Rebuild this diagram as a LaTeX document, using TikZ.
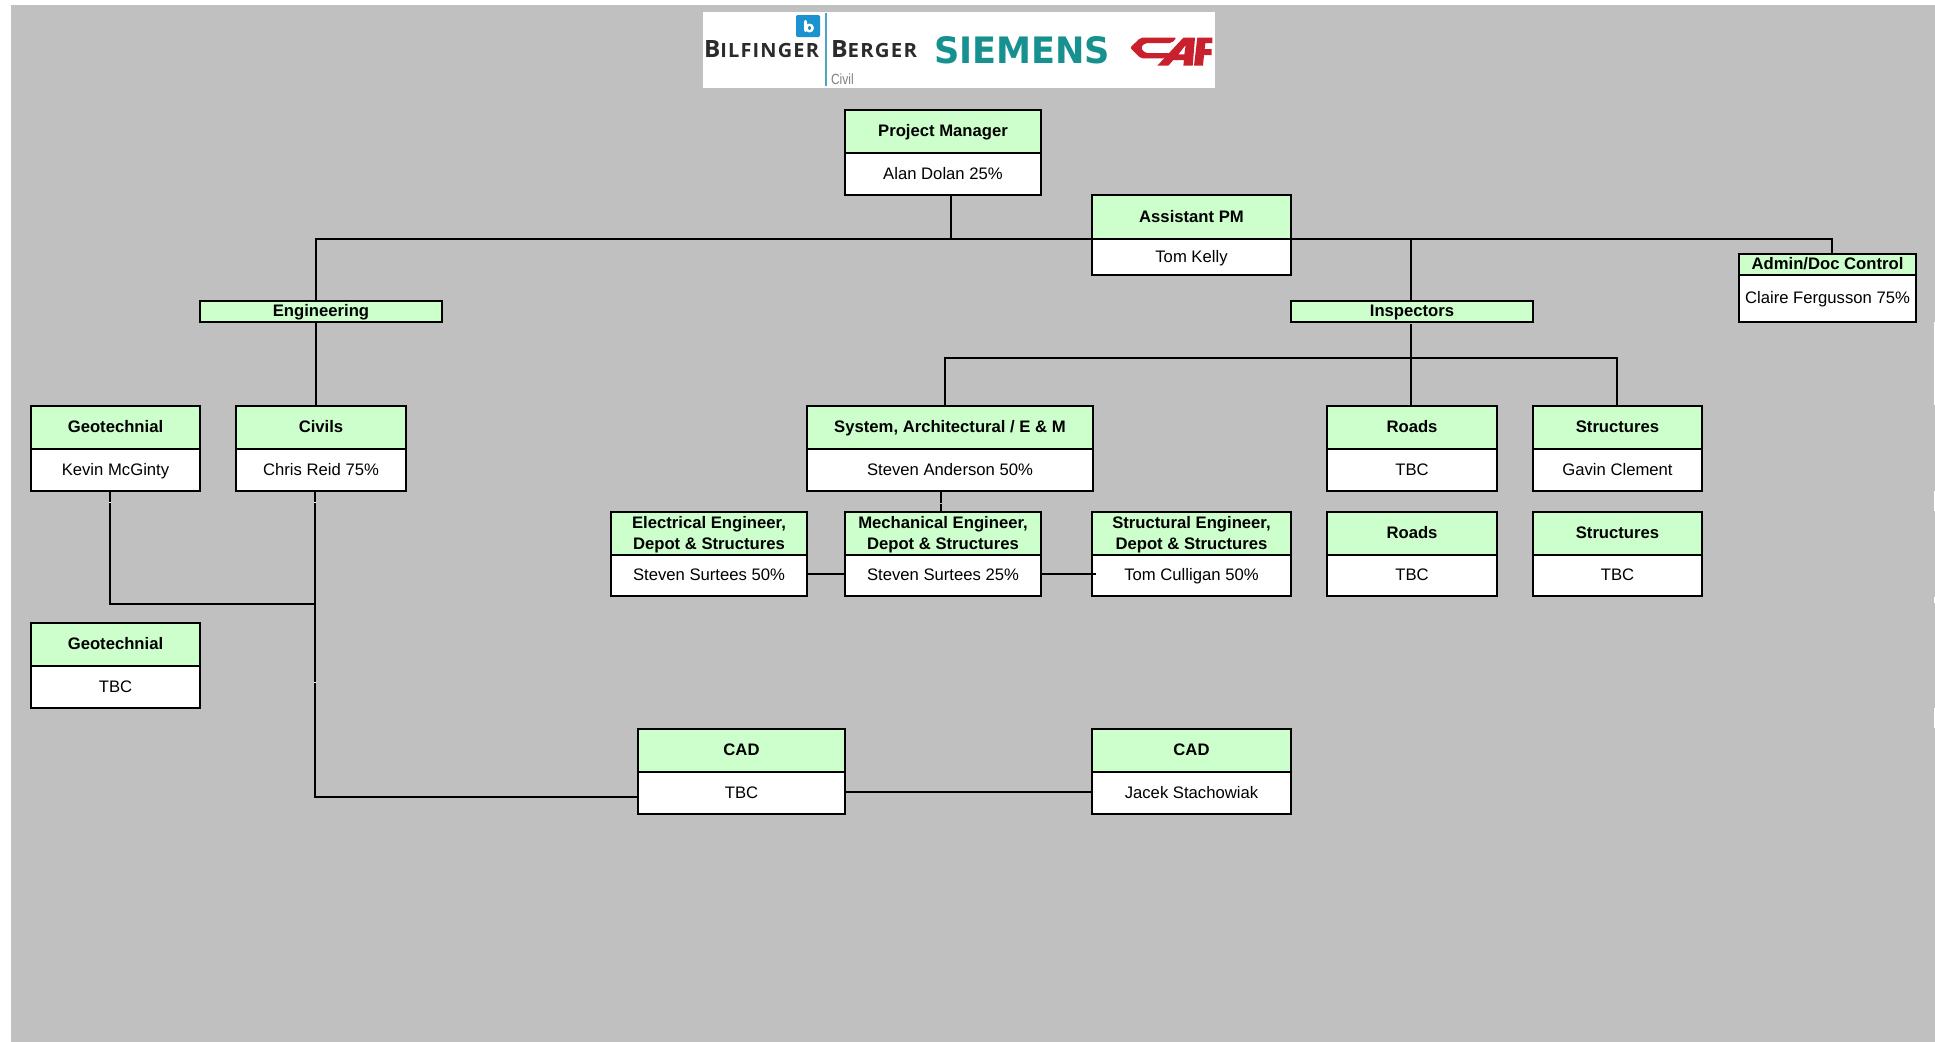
\documentclass[tikz,border=0pt]{standalone}
\usepackage{fontspec}
\usepackage{graphicx}
\setmainfont{Liberation Sans}
\newfontfamily\logofont[LetterSpace=6]{Open Sans}
\newfontfamily\siemensfont{DejaVu Sans}
\definecolor{sheetgrey}{HTML}{C0C0C0}
\definecolor{headgreen}{HTML}{CCFFCC}
\definecolor{bbblue}{HTML}{1C93D0}
\definecolor{bbline}{HTML}{4FA3C4}
\definecolor{bbtext}{HTML}{2B2B2B}
\definecolor{siemensteal}{HTML}{17918F}
\definecolor{cafred}{HTML}{C8202C}
\newcommand{\vbal}{\rule[-3.5pt]{0pt}{15pt}}
\tikzset{
  cellbox/.style={draw=black,line width=1.5pt,inner sep=0pt,outer sep=0pt,anchor=north west,align=center,
    font=\fontsize{12.5}{15.75}\selectfont},
  headcell/.style={cellbox,fill=headgreen,font=\fontsize{12.5}{15.75}\selectfont\bfseries},
  bodycell/.style={cellbox,fill=white},
  link/.style={draw=black,line width=1.5pt,line cap=rect},
  nick/.style={draw=white,line width=0.75pt},
  gapmark/.style={draw=sheetgrey,line width=1.2pt},
  logotext/.style={inner sep=0pt,outer sep=0pt,anchor=south west}
}
% name, x0, x1, y0, ymid, y1, title, body
\newcommand{\orgbox}[8]{%
  \node[headcell,minimum width={(#3-#2)*0.75pt},minimum height={(#5-#4)*0.75pt}] (#1-h) at (#2,#4) {\vbal #7\vbal};
  \node[bodycell,minimum width={(#3-#2)*0.75pt},minimum height={(#6-#5)*0.75pt}] (#1-b) at (#2,#5) {\vbal #8\vbal};
}
\begin{document}
\begin{tikzpicture}[x=0.75pt,y=-0.75pt]
\useasboundingbox (0,0) rectangle (1935,1042);
\fill[white] (0,0) rectangle (1935,1042);
\fill[sheetgrey] (11,5) rectangle (1935,1042);
% pale slivers on the right edge of the sheet
\fill[white] (1934,322) rectangle (1935,405);
\fill[white] (1934,491) rectangle (1935,511);
\fill[white] (1934,597) rectangle (1935,603);
\fill[white] (1934,708) rectangle (1935,728);

% logo panel
\fill[white] (703,12) rectangle (1215,88);
\fill[bbblue,rounded corners=1pt] (796,15) rectangle (820,37);
\fill[white,rounded corners=1.5pt] (804,20) rectangle (807,32);
\fill[white] (809.5,28) ellipse [x radius=4.5,y radius=4.5];
\fill[bbblue] (809.5,28) ellipse [x radius=1.5,y radius=2];
\draw[bbline,line width=1pt] (826,13) -- (826,86);
\node[logotext,text=bbtext] (bilfinger) at (704,58) {\resizebox{86.25pt}{12.75pt}{\logofont\bfseries\fontsize{17}{17}\selectfont B\fontsize{14}{14}\selectfont ILFINGER}};
\node[logotext,text=bbtext] (berger) at (831,58) {\resizebox{64.5pt}{12.75pt}{\logofont\bfseries\fontsize{17}{17}\selectfont B\fontsize{14}{14}\selectfont ERGER}};
\node[logotext,text=gray] (civil) at (831,85) {\resizebox{17pt}{8pt}{\fontsize{10}{10}\selectfont Civil}};
\node[logotext,text=siemensteal] (siemens) at (934,64) {\resizebox{132pt}{20.25pt}{\siemensfont\bfseries SIEMENS}};
\begin{scope}[shift={(1120,25)},x=0.25pt,y=-0.25pt]
  \fill[cafred,rounded corners=1.5pt] (170,38) -- (62,38) -- (30,68) -- (62,100) -- (135,100) -- (150,84) -- (75,84) -- (62,68) -- (75,54) -- (155,54) -- cycle;
  \fill[cafred,even odd rule] (190,38) -- (225,38) -- (218,122) -- (190,122) -- (192,105) -- (160,105) -- (145,122) -- (112,122) -- cycle (197,60) -- (193,88) -- (175,88) -- cycle;
  \fill[cafred] (232,38) -- (277,38) -- (277,54) -- (256,54) -- (254,72) -- (275,72) -- (275,90) -- (252,90) -- (249,122) -- (222,122) -- cycle;
\end{scope}

% boxes
\orgbox{pm}{845}{1041}{110}{153}{195}{Project Manager}{Alan Dolan 25\%}
\orgbox{apm}{1092}{1291}{195}{239}{275}{Assistant PM}{Tom Kelly}
\orgbox{admin}{1739}{1916}{254}{275}{322}{Admin/Doc Control}{Claire Fergusson 75\%}
\node[headcell,minimum width={242*0.75pt},minimum height={21*0.75pt}] (eng) at (200,301) {\vbal Engineering};
\node[headcell,minimum width={242*0.75pt},minimum height={21*0.75pt}] (insp) at (1291,301) {\vbal Inspectors};
\orgbox{geo}{31}{200}{406}{449}{490.5}{Geotechnial}{Kevin McGinty}
\orgbox{civ}{236}{406}{406}{449}{490.5}{Civils}{Chris Reid 75\%}
\orgbox{geob}{31}{200}{623}{666}{708}{Geotechnial}{TBC}
\orgbox{sys}{807}{1093}{406}{449}{490.5}{System, Architectural / E \& M}{Steven Anderson 50\%}
\orgbox{elec}{611}{807}{512}{555}{596}{Electrical Engineer,\\Depot \& Structures}{Steven Surtees 50\%}
\orgbox{mech}{845}{1041}{512}{555}{596}{Mechanical Engineer,\\Depot \& Structures}{Steven Surtees 25\%}
\orgbox{stru}{1092}{1291}{512}{555}{596}{Structural Engineer,\\Depot \& Structures}{Tom Culligan 50\%}
\orgbox{road}{1327}{1497}{406}{449}{490.5}{Roads}{TBC}
\orgbox{strc}{1533}{1702}{406}{449}{490.5}{Structures}{Gavin Clement}
\orgbox{roadb}{1327}{1497}{512}{555}{596}{Roads}{TBC}
\orgbox{strcb}{1533}{1702}{512}{555}{596}{Structures}{TBC}
\orgbox{cada}{638}{845}{729}{772}{814}{CAD}{TBC}
\orgbox{cadb}{1092}{1291}{729}{772}{814}{CAD}{Jacek Stachowiak}

% connector junctions
\coordinate (busL) at (316,239);
\coordinate (busPM) at (951,239);
\coordinate (busI) at (1411,239);
\coordinate (busR) at (1832,239);
\coordinate (insBusL) at (945,358);
\coordinate (insBusM) at (1411,358);
\coordinate (insBusR) at (1617,358);
\coordinate (engOut) at (316,324);
\coordinate (inspOut) at (1411,325);
\coordinate (civDown) at (315,491);
\coordinate (geoDown) at (110,491);
\coordinate (geoJoin) at (110,604);
\coordinate (civJoin) at (315,604);
\coordinate (civEnd) at (315,797);
\coordinate (sysDown) at (941,491);
\coordinate (mechTop) at (941,512);
\coordinate (elecOut) at (807,574);
\coordinate (mechIn) at (845,574);
\coordinate (mechOut) at (1043,574);
\coordinate (struIn) at (1095,574);
\coordinate (cadLink) at (845,792);

% connectors
\draw[link] (pm-b.south -| busPM) -- (busPM);
\draw[link] (busL) -- (busR);
\draw[link] (busL) -- (eng.north -| busL);
\draw[link] (engOut) -- (civ-h.north -| engOut);
\draw[link] (busI) -- (insp.north -| busI);
\draw[link] (busR) -- (admin-h.north -| busR);
\draw[link] (inspOut) -- (road-h.north -| inspOut);
\draw[link] (insBusL) -- (insBusR);
\draw[link] (insBusL) -- (sys-h.north -| insBusL);
\draw[link] (insBusR) -- (strc-h.north -| insBusR);
\draw[link] (geoDown) -- (geoJoin) -- (civJoin);
\draw[link] (civDown) -- (civEnd) -- (cada-b.west |- civEnd);
\draw[link] (sysDown) -- (mechTop);
\draw[gapmark] (936,503.5) -- (946,503.5);
\draw[link] (elecOut) -- (mechIn);
\draw[link] (mechOut) -- (struIn);
\draw[link] (cadLink) -- (cadb-b.west |- cadLink);

% small white ticks on the vertical lines
\draw[nick] (109,502) -- (111,502);
\draw[nick] (314,502) -- (316,502);
\draw[nick] (314,682) -- (316,682);
\end{tikzpicture}
\end{document}
